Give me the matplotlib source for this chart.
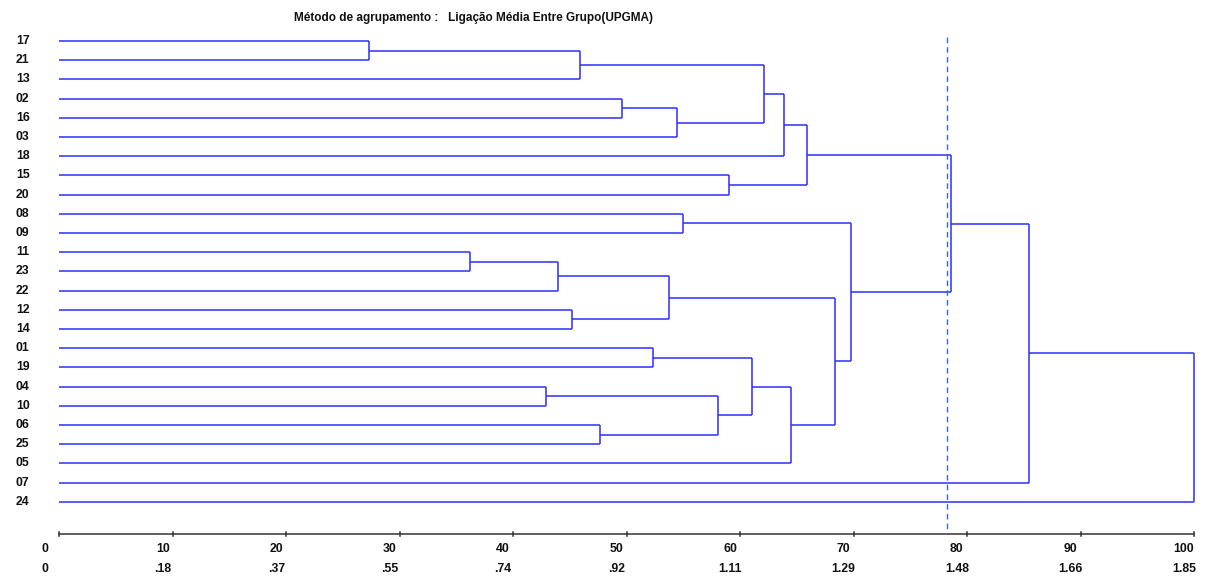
import matplotlib
matplotlib.use('Agg')
import matplotlib.pyplot as plt
from matplotlib import font_manager

# leaves top to bottom
leaves = ['17', '21', '13', '02', '16', '03', '18', '15', '20', '08', '09', '11', '23',
          '22', '12', '14', '01', '19', '04', '10', '06', '25', '05', '07', '24']

# merges (UPGMA), clusters are named g1, g2, ...
merge_a = ['17', 'g1', '02', 'g3', 'g2', 'g5', '15', 'g6', '08', '11', 'g10', '12',
           'g11', '01', '04', '06', 'g15', 'g14', 'g18', 'g13', 'g9', 'g8', 'g22', 'g23']
merge_b = ['21', '13', '16', '03', 'g4', '18', '20', 'g7', '09', '23', '22', '14',
           'g12', '19', '10', '25', 'g16', 'g17', '05', 'g19', 'g20', 'g21', '07', '24']
merge_h = [27.3, 45.9, 49.6, 54.4, 62.1, 63.9, 59.0, 65.9, 55.0, 36.2, 43.9, 45.2,
           53.7, 52.3, 42.9, 47.6, 58.0, 61.0, 64.5, 68.4, 69.8, 78.6, 85.5, 100.0]

cut_level = 78.2
ticks_top = [0, 10, 20, 30, 40, 50, 60, 70, 80, 90, 100]
ticks_bottom = ['0', '.18', '.37', '.55', '.74', '.92', '1.11', '1.29', '1.48', '1.66', '1.85']

title = 'Método de agrupamento :   Ligação Média Entre Grupo(UPGMA)'

names = [f.name for f in font_manager.fontManager.ttflist]
fam = ['Liberation Sans Narrow', 'DejaVu Sans'] if 'Liberation Sans Narrow' in names else ['Liberation Sans', 'DejaVu Sans']

fig = plt.figure(figsize=(12.07, 5.76), dpi=100)
ax = fig.add_axes([0, 0, 1, 1])
ax.axis('off')
ppu = 11.345  # pixels per unit on x
ax.set_xlim(-59.5 / ppu, (1207 - 59.5) / ppu)
ax.set_ylim((576 - 41) / 19.2, -41 / 19.2)

blue = '#2e2eff'
pos = {}
for i, l in enumerate(leaves):
    pos[l] = (0.0, float(i))

for k, (a, b, h) in enumerate(zip(merge_a, merge_b, merge_h)):
    xa, ya = pos[a]
    xb, yb = pos[b]
    ax.plot([xa, h], [ya, ya], color=blue, lw=1.1, solid_capstyle='butt')
    ax.plot([xb, h], [yb, yb], color=blue, lw=1.1, solid_capstyle='butt')
    ax.plot([h, h], [ya, yb], color=blue, lw=1.1, solid_capstyle='butt')
    pos['g%d' % (k + 1)] = (h, (ya + yb) / 2)

# leaf labels
for i, l in enumerate(leaves):
    ax.text(-43.5 / ppu, i, l, ha='left', va='center', fontsize=8.8,
            fontweight='bold', family=fam, color='#111111')

# cut line
ax.plot([cut_level, cut_level], [-0.2, 25.4], color='#2f6ae6', lw=1.0,
        linestyle=(0, (4, 3)))

# scale axis
y_axis = (534 - 41) / 19.2
ax.plot([0, 100], [y_axis, y_axis], color='#333333', lw=1.1)
for t, lab in zip(ticks_top, ticks_bottom):
    ax.plot([t, t], [y_axis - 0.13, y_axis + 0.13], color='#333333', lw=1.1)
    lx = t - 0.9 if t > 0 else -1.3
    ax.text(lx, (549 - 41) / 19.2, str(t), ha='center', va='center', fontsize=8.8,
            fontweight='bold', family=fam, color='#111111')
    ax.text(lx, (569 - 41) / 19.2, lab, ha='center', va='center', fontsize=8.8,
            fontweight='bold', family=fam, color='#111111')

ax.text((474 - 59.5) / ppu, (18 - 41) / 19.2, title, ha='center', va='center',
        fontsize=8.5, fontweight='bold', family=fam, color='#111111')

fig.savefig('out.png', dpi=100)
